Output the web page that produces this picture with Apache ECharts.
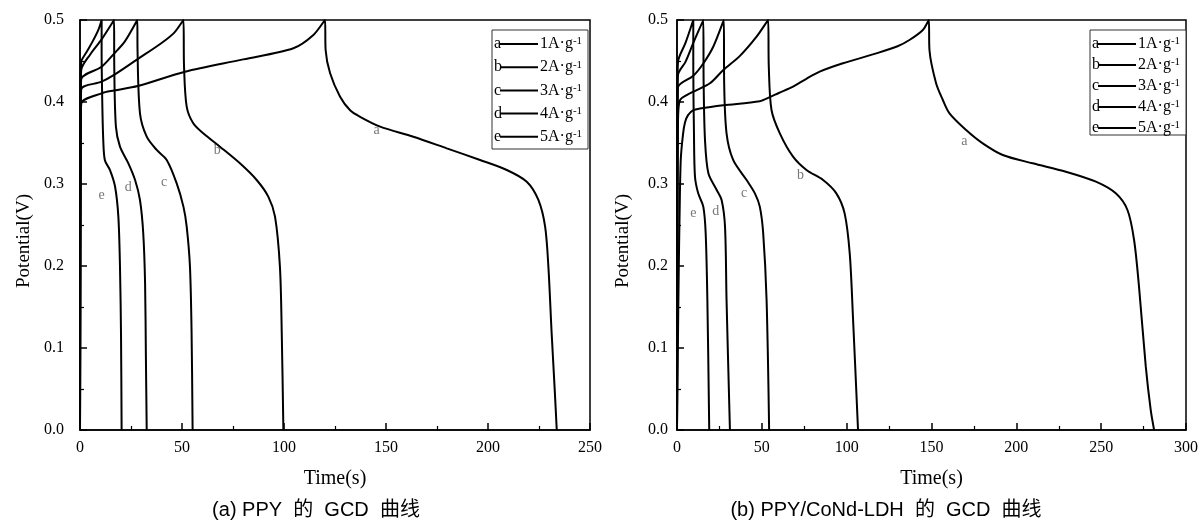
<!DOCTYPE html>
<html>
<head>
<meta charset="utf-8">
<title>GCD curves</title>
<script src="https://cdn.jsdelivr.net/npm/echarts@6/dist/echarts.min.js"></script>
<style>
  html, body { margin: 0; padding: 0; background: #fff; }
  #chart { width: 1201px; height: 530px; }
</style>
</head>
<body>
<div id="chart"></div>
<script>
// Galvanostatic charge/discharge curves: [time (s), potential (V)]
// PPY electrode
const ppy1A = [[0,0],[0.3,0.36],[0.6,0.398],[10.6,0.4106],[16.7,0.414],[28.3,0.4195],[51.5,0.437],[80,0.452],[104.6,0.4655],[114.4,0.4817],[120.1,0.5],
  [120.1,0.5],[120.4,0.4634],[122.6,0.435],[127.5,0.4065],[132.4,0.39],[137.3,0.382],[147.1,0.37],[163.4,0.3577],[179.8,0.3435],[196.1,0.3293],[209.2,0.3171],[219,0.3028],[224.7,0.2805],[228,0.248],[229.6,0.1992],[231.2,0.118],[232.8,0.0447],[233.7,0]];
const ppy2A = [[0,0],[0.3,0.38],[0.6,0.4155],[10.6,0.4248],[16.7,0.433],[28.1,0.452],[40,0.472],[46,0.484],[50.7,0.5],
  [50.7,0.5],[51,0.4431],[52.3,0.3943],[55.5,0.374],[60.4,0.3618],[68.6,0.3455],[78.4,0.3252],[86.6,0.3049],[92.3,0.2846],[95.6,0.2602],[98,0.1992],[98.9,0.118],[99.7,0]];
const ppy3A = [[0,0],[0.3,0.4],[0.6,0.428],[10.6,0.443],[16.7,0.459],[22,0.474],[28.1,0.5],
  [28.1,0.5],[28.2,0.4634],[29.4,0.3862],[32.7,0.3577],[37.6,0.3415],[42.5,0.3293],[47.4,0.3008],[50.7,0.2724],[52.3,0.248],[53.9,0.1992],[54.7,0.118],[55.2,0]];
const ppy4A = [[0,0],[0.3,0.41],[0.6,0.439],[5,0.458],[10.6,0.4764],[16.7,0.5],
  [16.7,0.5],[16.8,0.4431],[17.6,0.3699],[19.6,0.3455],[23.7,0.3252],[27,0.3049],[29.4,0.2805],[31,0.24],[31.9,0.179],[32.3,0.09],[32.7,0]];
const ppy5A = [[0,0],[0.3,0.42],[0.6,0.449],[3,0.46],[6,0.473],[9,0.488],[10.6,0.5],
  [10.6,0.5],[10.6,0.4634],[10.9,0.402],[11.4,0.3537],[12.2,0.329],[14.7,0.317],[17.2,0.2967],[18.8,0.2602],[19.6,0.1992],[20.1,0.118],[20.4,0]];

// PPY/CoNd-LDH electrode
const ldh1A = [[0,0],[0.5,0.1],[1,0.19],[1.5,0.26],[2.2,0.329],[3.5,0.36],[4.7,0.375],[6.5,0.384],[9.6,0.39],[13.5,0.392],[27.3,0.396],[48.8,0.401],[54.7,0.406],[60,0.411],[68.4,0.4187],[76,0.428],[84.1,0.437],[97.8,0.4472],[117.5,0.4593],[130,0.468],[137,0.4756],[144.9,0.4878],[148.4,0.5],
  [148.4,0.5],[148.8,0.4634],[152.7,0.4228],[156.7,0.4024],[160.6,0.3862],[170.4,0.3659],[180.2,0.3496],[192,0.3354],[209.6,0.3252],[229.2,0.315],[246.9,0.3028],[258.6,0.2886],[265.5,0.2683],[269.4,0.2317],[272.3,0.1748],[276.3,0.0772],[279.2,0.0244],[281.2,0]];
const ldh2A = [[0,0],[0.3,0.3],[0.7,0.385],[1.8,0.4024],[5.7,0.4085],[11.6,0.4146],[19.4,0.4228],[27.3,0.439],[37.1,0.4563],[46.9,0.4797],[53.7,0.5],
  [53.7,0.5],[54.1,0.4431],[55.7,0.3902],[60.6,0.3618],[68.4,0.3333],[76.3,0.3171],[86.1,0.3049],[93.9,0.2886],[98.8,0.2642],[101.8,0.2154],[103.7,0.1382],[106.7,0]];
const ldh3A = [[0,0],[0.3,0.39],[0.6,0.418],[9.6,0.432],[15.5,0.447],[21.5,0.468],[27.6,0.5],
  [27.6,0.5],[27.8,0.4228],[29.2,0.3618],[33.1,0.3293],[41,0.3049],[45.9,0.2886],[48.8,0.2724],[50.8,0.24],[52.8,0.1585],[54.3,0]];
const ldh4A = [[0,0],[0.3,0.41],[0.6,0.433],[5,0.449],[9.6,0.472],[15.5,0.5],
  [15.5,0.5],[15.7,0.4228],[16.5,0.3537],[18.5,0.313],[23.4,0.2927],[26.3,0.2805],[28.3,0.248],[29.2,0.1585],[31.2,0]];
const ldh5A = [[0,0],[0.3,0.42],[0.6,0.449],[5,0.472],[9.6,0.5],
  [9.6,0.5],[9.6,0.4431],[10,0.3618],[10.6,0.3089],[12.5,0.2886],[15.5,0.2724],[16.9,0.24],[17.9,0.1585],[19,0]];

// Curve letters, current densities and the spot where each letter is written
const curveLetters = ['a', 'b', 'c', 'd', 'e'];
const currentLabels = ['1A·g', '2A·g', '3A·g', '4A·g', '5A·g'];
const ppyTags = [[145.4, 0.365], [67.3, 0.3406], [41.2, 0.3016], [23.7, 0.296], [10.6, 0.2866]];
const ldhTags = [[169.4, 0.352], [72.8, 0.31], [39.6, 0.289], [22.9, 0.267], [9.6, 0.264]];

// Panel captions
const captions = ['(a) PPY  的  GCD  曲线', '(b) PPY/CoNd-LDH  的  GCD  曲线'];

// Axis ranges
const xMaxPpy = 250;
const xMaxLdh = 300;
const xStep = 50;
const yMax = 0.5;
const yStep = 0.1;

const ppyCurves = [ppy1A, ppy2A, ppy3A, ppy4A, ppy5A];
const ldhCurves = [ldh1A, ldh2A, ldh3A, ldh4A, ldh5A];

const SERIF = '"Liberation Serif", "Times New Roman", serif';
const CAPTION = '"Liberation Sans", Arial, "Noto Sans CJK SC", sans-serif';

function makeX(idx, max, labelMargin) {
  return {
    type: 'value', gridIndex: idx, min: 0, max: max, interval: xStep,
    axisLine: { show: true, onZero: false, lineStyle: { color: '#000', width: 1.5 } },
    axisTick: { show: true, inside: true, length: 7, lineStyle: { color: '#000', width: 1.5 } },
    minorTick: { show: true, splitNumber: 2, length: 4, lineStyle: { color: '#000', width: 1.2 } },
    splitLine: { show: false },
    axisLabel: { color: '#000', fontFamily: SERIF, fontSize: 16, margin: labelMargin },
    name: 'Time(s)', nameLocation: 'middle', nameGap: 39,
    nameTextStyle: { color: '#000', fontFamily: SERIF, fontSize: 20 }
  };
}
function makeY(idx, labelMargin, nameGap) {
  return {
    type: 'value', gridIndex: idx, min: 0, max: yMax, interval: yStep,
    axisLine: { show: true, onZero: false, lineStyle: { color: '#000', width: 1.5 } },
    axisTick: { show: true, inside: true, length: 7, lineStyle: { color: '#000', width: 1.5 } },
    minorTick: { show: true, splitNumber: 2, length: 4, lineStyle: { color: '#000', width: 1.2 } },
    splitLine: { show: false },
    axisLabel: { color: '#000', fontFamily: SERIF, fontSize: 16, margin: labelMargin,
      formatter: v => v.toFixed(1) },
    name: 'Potential(V)', nameLocation: 'middle', nameGap: nameGap,
    nameTextStyle: { color: '#000', fontFamily: SERIF, fontSize: 19, padding: [0, 32, 0, 0] }
  };
}

function curveSeries(curves, idx) {
  return curves.map((pts, i) => ({
    type: 'line', name: curveLetters[i] + '-' + idx,
    xAxisIndex: idx, yAxisIndex: idx,
    data: pts, showSymbol: false, smooth: 0.3,
    lineStyle: { color: '#000', width: 2 },
    silent: true
  }));
}
function tagSeries(tags, idx) {
  return {
    type: 'scatter', xAxisIndex: idx, yAxisIndex: idx,
    symbolSize: 0, silent: true,
    data: tags.map((p, i) => ({ name: curveLetters[i], value: p })),
    itemStyle: { color: 'transparent' },
    label: { show: true, position: 'inside', formatter: '{b}',
      color: '#555', fontFamily: SERIF, fontSize: 14 }
  };
}

// Legend block: letter, short line, current density with superscript
function legendBlock(x0, y0, w, h, rowTop, rowStep) {
  const items = [{
    type: 'rect', shape: { x: x0, y: y0, width: w, height: h },
    style: { fill: '#fff', stroke: '#333', lineWidth: 1 }, z: 10
  }];
  curveLetters.forEach((ch, i) => {
    const cy = rowTop + i * rowStep;
    items.push({ type: 'text', x: x0 + 2, y: cy, z: 11,
      style: { text: ch, font: '16px ' + SERIF, fill: '#000', verticalAlign: 'middle', align: 'left' } });
    items.push({ type: 'line', z: 11,
      shape: { x1: x0 + 8, y1: cy, x2: x0 + 46, y2: cy },
      style: { stroke: '#000', lineWidth: 2 } });
    items.push({ type: 'text', x: x0 + 48, y: cy, z: 11,
      style: { text: '{m|' + currentLabels[i] + '}{s|-1}', verticalAlign: 'middle', align: 'left',
        rich: {
          m: { fontFamily: SERIF, fontSize: 16, fill: '#000', color: '#000' },
          s: { fontFamily: SERIF, fontSize: 11, fill: '#000', color: '#000', verticalAlign: 'top' }
        } } });
  });
  return items;
}

const chart = echarts.init(document.getElementById('chart'), null, { renderer: 'canvas' });
chart.setOption({
  animation: false,
  backgroundColor: '#fff',
  grid: [
    { left: 80, top: 20, width: 510, height: 410, show: true, borderColor: '#000', borderWidth: 1.5, backgroundColor: 'transparent' },
    { left: 677, top: 20, width: 510, height: 410, show: true, borderColor: '#000', borderWidth: 1.5, backgroundColor: 'transparent' }
  ],
  xAxis: [makeX(0, xMaxPpy, 10), makeX(1, xMaxLdh, 10)],
  yAxis: [makeY(0, 16, 46), makeY(1, 9, 44)],
  series: [].concat(curveSeries(ppyCurves, 0), curveSeries(ldhCurves, 1),
    [tagSeries(ppyTags, 0), tagSeries(ldhTags, 1)]),
  graphic: [].concat(
    legendBlock(492, 30, 96, 119, 44, 23.2),
    legendBlock(1090, 30, 96, 105, 44, 21),
    [
      { type: 'text', x: 316, y: 510, style: { text: captions[0], font: '20px ' + CAPTION, fill: '#000', align: 'center', verticalAlign: 'middle' } },
      { type: 'text', x: 886, y: 510, style: { text: captions[1], font: '20px ' + CAPTION, fill: '#000', align: 'center', verticalAlign: 'middle' } }
    ]
  )
});
</script>
</body>
</html>
